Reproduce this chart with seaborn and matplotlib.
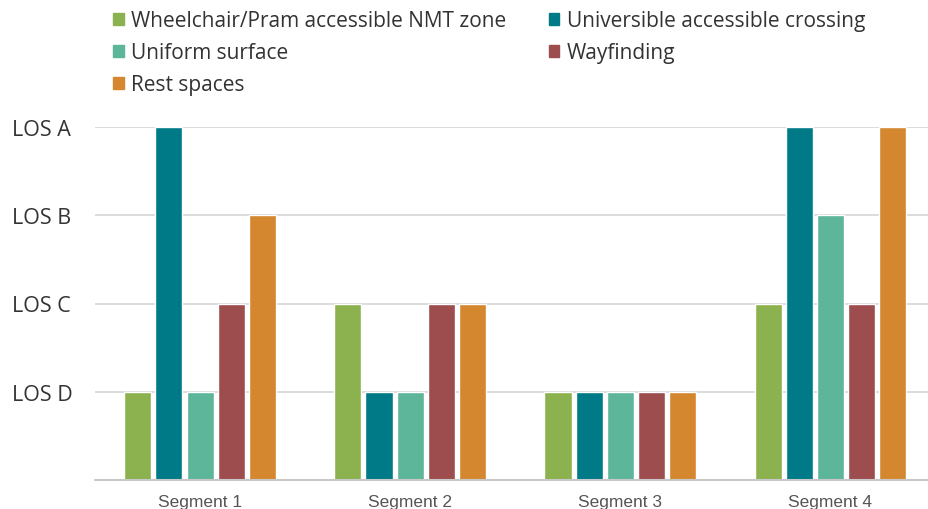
import matplotlib
matplotlib.use("Agg")
import matplotlib.pyplot as plt
from matplotlib.patches import Patch
import seaborn as sns
import pandas as pd

# Level of service per segment: 1 = LOS D, 2 = LOS C, 3 = LOS B, 4 = LOS A
segments = ["Segment 1", "Segment 2", "Segment 3", "Segment 4"]
criteria = [
    "Wheelchair/Pram accessible NMT zone",
    "Universible accessible crossing",
    "Uniform surface",
    "Wayfinding",
    "Rest spaces",
]
wheelchair = [1, 2, 1, 2]
crossing = [4, 1, 1, 4]
surface = [1, 1, 1, 3]
wayfinding = [2, 2, 1, 2]
rest = [3, 2, 1, 4]
los_levels = [1, 2, 3, 4]
los_labels = ["LOS D", "LOS C", "LOS B", "LOS A"]
colors = ["#8bb24f", "#007a87", "#5db59a", "#9e4d4f", "#d4872f"]

series = [wheelchair, crossing, surface, wayfinding, rest]
df = pd.DataFrame(
    [(seg, crit, vals[i]) for crit, vals in zip(criteria, series) for i, seg in enumerate(segments)],
    columns=["segment", "criterion", "los"],
)

sns.set_theme(style="white")
plt.rcParams["font.family"] = ["Open Sans", "DejaVu Sans"]

fig = plt.figure(figsize=(9.29, 5.10), dpi=100)
ax = fig.add_axes([95 / 929, 29 / 510, 834 / 929, 353 / 510])

sns.barplot(
    data=df, x="segment", y="los", hue="criterion",
    order=segments, hue_order=criteria, palette=colors,
    width=0.74, gap=0.13, saturation=1, legend=False, ax=ax,
)

ax.set_ylim(0, 4.0)
ax.set_xlim(-0.5, 3.47)
ax.set_yticks(los_levels)
ax.set_yticklabels(los_labels)
ax.set_xlabel("")
ax.set_ylabel("")

for y in los_levels:
    ax.axhline(y, color="#d9d9d9", lw=1.3, zorder=0)
ax.axhline(0, color="#c8c8c8", lw=1.5, zorder=3, clip_on=False)

for s in ax.spines.values():
    s.set_visible(False)
# left-aligned level labels starting near the figure edge
ax.tick_params(axis="y", length=0, pad=83 * 0.72, labelsize=15.5, labelcolor="#333333")
ax.tick_params(axis="x", length=0, pad=10, labelsize=12.5, labelcolor="#555555")
for lbl in ax.get_xticklabels():
    lbl.set_family(["Liberation Sans", "DejaVu Sans"])
for lbl in ax.get_yticklabels():
    lbl.set_ha("left")

# Legend laid out row by row in two columns
handles = [Patch(color=c) for c in colors]
order = [0, 2, 4, 1, 3]
fig.legend(
    [handles[i] for i in order], [criteria[i] for i in order],
    loc="upper left", bbox_to_anchor=(104 / 929, 1.0 - 2 / 510), ncol=2,
    frameon=False, fontsize=15, handlelength=0.5, handleheight=0.5,
    handletextpad=0.35, columnspacing=2.04, labelspacing=0.52,
    labelcolor="#333333", borderaxespad=0.05,
)

fig.savefig("out.png", dpi=100)
